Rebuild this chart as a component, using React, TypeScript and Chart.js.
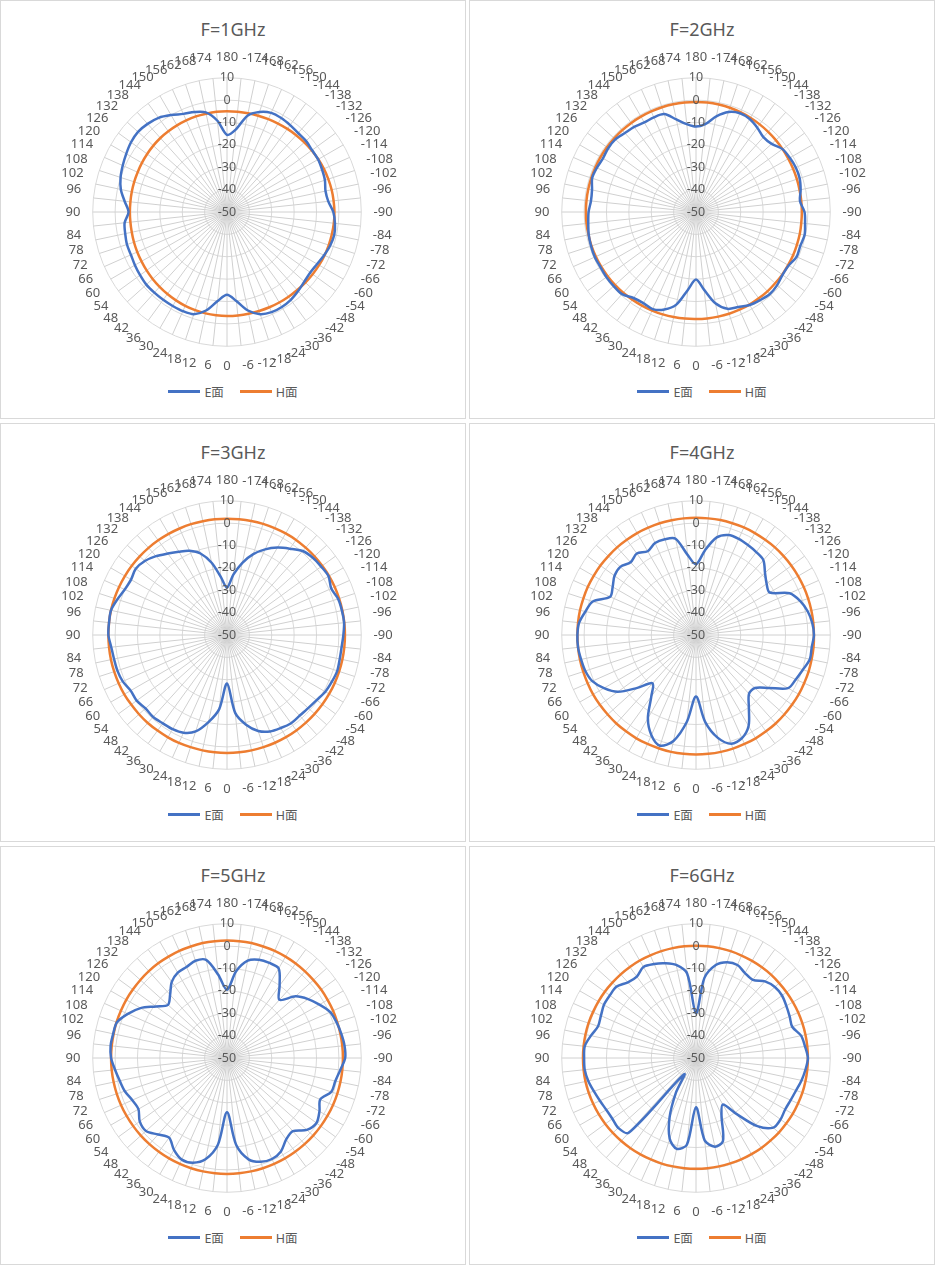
import React, { useEffect, useRef } from "react";
import { Chart, registerables } from "chart.js";
Chart.register(...registerables);

const angleLabels = ["180","-174","-168","-162","-156","-150","-144","-138","-132","-126","-120","-114","-108","-102","-96","-90","-84","-78","-72","-66","-60","-54","-48","-42","-36","-30","-24","-18","-12","-6","0","6","12","18","24","30","36","42","48","54","60","66","72","78","84","90","96","102","108","114","120","126","132","138","144","150","156","162","168","174"];

const titles = ["F=1GHz","F=2GHz","F=3GHz","F=4GHz","F=5GHz","F=6GHz"];

const e1 = [-15.5,-13,-6,-3,-1.5,-1.5,-2,-2.5,-2.5,-3,-3,-3.5,-4,-5,-4.5,-2.5,-1.5,-1,-1.5,-2.5,-3.5,-4,-3.5,-2.5,-1.5,-1,-1,-2,-5,-10,-13,-10,-5,-2,-1.5,-1.5,-1.5,-1.5,-1.5,-2,-2.5,-3,-3,-3.5,-4,-6,-4,-1.5,0,1,2,3,3.5,3,2,0,-2,-3,-4.5,-9];
const h1 = [-5,-5,-4.9,-4.8,-4.6,-4.4,-4.1,-3.8,-3.5,-3.2,-2.9,-2.6,-2.4,-2.2,-2.1,-2,-2,-2.1,-2.2,-2.3,-2.5,-2.7,-2.9,-3.1,-3.2,-3.3,-3.4,-3.5,-3.5,-3.5,-3.5,-3.6,-3.7,-3.9,-4.1,-4.4,-4.7,-5,-5.3,-5.6,-5.9,-6.1,-6.3,-6.5,-6.6,-6.6,-6.6,-6.5,-6.4,-6.3,-6.1,-5.9,-5.7,-5.5,-5.4,-5.3,-5.2,-5.1,-5.1,-5];
const e2 = [-11.8,-10.5,-6.3,-3,-1.7,-2,-3.4,-5,-4.5,-2.2,-1.6,-1.2,-1.3,-2.2,-3.3,-1.5,-1,-0.4,-1,-0.8,-2.2,-2.2,-1.2,-0.7,-1.3,-2,-3.5,-4.5,-8.3,-15,-19.8,-15,-7.7,-4.2,-2.5,-3,-2.5,-0.6,-0.5,-0.5,-0.7,-0.5,-0.7,-1,-1.6,-2,-2.8,-2.5,-1.2,-1.5,-2,-1.5,-1.5,-2.5,-3,-3.8,-3.7,-4,-7.7,-10.5];
const h2 = [-0.8,-0.8,-0.9,-1,-1.2,-1.4,-1.6,-1.8,-2,-2.2,-2.4,-2.5,-2.6,-2.7,-2.7,-2.7,-2.7,-2.6,-2.6,-2.5,-2.5,-2.4,-2.4,-2.3,-2.3,-2.2,-2.2,-2.2,-2.2,-2.2,-2.2,-2.1,-2,-1.9,-1.8,-1.7,-1.6,-1.4,-1.3,-1.2,-1.1,-1,-0.9,-0.9,-0.8,-0.8,-0.8,-0.8,-0.8,-0.8,-0.8,-0.8,-0.8,-0.8,-0.8,-0.8,-0.8,-0.8,-0.8,-0.8];
const e3 = [-28.8,-22.9,-17,-12,-8.1,-4.9,-2.3,0.5,1.6,2,2.4,1,2.2,2.5,2.6,2,1.5,1.5,1.8,1.3,0.7,-0.5,-1.2,-1.5,-1.3,-2,-2.8,-4.9,-9,-15,-28.3,-16.7,-10.2,-4.7,-2.2,-1.4,-1.2,-0.7,-1,-0.1,-0.3,1,1.5,1.6,2,3,3,3,1.5,0,-0.5,0.4,-0.6,-2.6,-5,-7,-8.8,-11.7,-17,-24];
const h3 = [2,2,2.1,2.2,2.3,2.4,2.5,2.5,2.6,2.6,2.7,2.7,2.7,2.7,2.7,2.7,2.7,2.7,2.7,2.7,2.7,2.7,2.7,2.7,2.7,2.7,2.7,2.7,2.7,2.7,2.7,2.7,2.7,2.7,2.8,2.8,2.8,2.9,2.9,2.9,3,3,3,3,3,3,3,3,2.9,2.8,2.7,2.6,2.5,2.4,2.3,2.2,2.1,2.1,2,2];
const e4 = [-18.4,-12,-5.4,-3,-3,-3.6,-4.2,-5,-8.5,-11,-12,-4.2,-1,1,2.2,2.7,2,2,0.2,-1.2,-2.5,-9.8,-14.6,-14.6,-9.8,-3,0.5,1.1,-3,-11,-22.5,-11,-1.6,2,-1,-7,-16,-21,-14.7,-6.8,-2.5,0.7,2,2.5,3,3,2.5,0.5,-1.5,-8,-7,-5,-4.5,-6.3,-5,-6.8,-5,-5,-6,-14];
const h4 = [2.4,2.4,2.5,2.5,2.6,2.6,2.6,2.7,2.7,2.7,2.7,2.7,2.7,2.7,2.7,2.7,2.8,2.8,2.9,2.9,3,3,3.1,3.2,3.2,3.3,3.3,3.4,3.4,3.4,3.4,3.4,3.4,3.3,3.3,3.3,3.2,3.2,3.1,3.1,3.1,3,3,3,3,3,3,3,2.9,2.9,2.8,2.8,2.7,2.7,2.6,2.6,2.5,2.5,2.4,2.4];
const e5 = [-19.5,-11,-5.5,-3.8,-3.5,-3.8,-10,-15,-8.8,-5.2,-2.3,0.5,1.5,2.2,2.8,2.8,0.9,-0.5,-1,-4.4,-2.3,-0.6,-2,-6,-5,-1.8,-0.6,-1.2,-3.7,-11,-25.8,-11,-3.7,-0.8,-0.3,-2.6,-6,-4,-1.3,-1.8,-4.3,-3.7,-2,-1,0.3,1.8,2.3,2,1.7,-1.5,-5.4,-10.8,-14.5,-12,-8,-6,-5.5,-4.3,-5.2,-12.6];
const h5 = [2.5,2.5,2.5,2.4,2.4,2.3,2.2,2.1,2,2,1.9,1.9,1.8,1.8,1.8,1.8,1.8,1.8,1.8,1.8,1.8,1.8,1.8,1.8,1.8,1.8,1.8,1.8,1.8,1.8,1.8,1.8,1.8,1.8,1.8,1.8,1.8,1.8,1.8,1.8,1.8,1.8,1.8,1.8,1.8,1.8,1.8,1.8,1.9,1.9,2,2,2.1,2.2,2.3,2.3,2.4,2.4,2.5,2.5];
const e6 = [-30,-14,-7.5,-5,-4.5,-6.2,-6.8,-3.9,-2.6,-2.5,-3.4,-4.2,-4.8,-2,-1,0,-0.8,-1.8,-3,-3.7,-4,-3.3,-3.5,-9,-19,-26,-22,-11,-9.5,-13,-28,-11,-8.5,-12,-21,-32,-41,-5,-3.3,-3.8,-3.7,-3,-2,-0.8,0,0,0,-2,-4,-3.5,-2.5,-2.4,-2.3,-4.5,-5,-3,-4,-5.5,-7.5,-12];
const h6 = [0.2,0.2,0.2,0.2,0.1,0.1,0.1,0.1,0,0,0,0,0,0,0,0,0,0,0,-0.1,-0.1,-0.2,-0.2,-0.3,-0.3,-0.4,-0.4,-0.5,-0.5,-0.5,-0.5,-0.5,-0.5,-0.4,-0.4,-0.3,-0.2,-0.1,0,0.1,0.2,0.3,0.4,0.5,0.5,0.5,0.5,0.5,0.5,0.4,0.4,0.4,0.3,0.3,0.3,0.3,0.2,0.2,0.2,0.2];

const eSeries = [e1, e2, e3, e4, e5, e6];
const hSeries = [h1, h2, h3, h4, h5, h6];
const tickMin = -50;
const tickMax = 10;
const tickStep = 10;

const FONT = "'Noto Sans', 'Noto Sans CJK SC', sans-serif";
const BLUE = "#4472C4";
const ORANGE = "#ED7D31";

function Panel({ idx, left, top }: { idx: number; left: number; top: number }) {
  const ref = useRef<HTMLCanvasElement>(null);
  useEffect(() => {
    const chart = new Chart(ref.current!, {
      type: "radar",
      data: {
        labels: angleLabels,
        datasets: [
          { label: "E面", data: eSeries[idx], borderColor: BLUE, backgroundColor: BLUE, borderWidth: 2.5, pointRadius: 0, fill: false, tension: 0.3 },
          { label: "H面", data: hSeries[idx], borderColor: ORANGE, backgroundColor: ORANGE, borderWidth: 2.5, pointRadius: 0, fill: false, tension: 0.3 },
        ],
      },
      options: {
        animation: false,
        responsive: false,
        maintainAspectRatio: false,
        layout: { padding: 0 },
        plugins: { legend: { display: false }, title: { display: false }, tooltip: { enabled: false } },
        scales: {
          r: {
            min: tickMin,
            max: tickMax,
            ticks: { stepSize: tickStep, color: "#595959", font: { size: 12.5, family: FONT }, showLabelBackdrop: false, z: 1 },
            grid: { circular: true, color: "#d9d9d9" },
            angleLines: { color: "#d0d0d0" },
            pointLabels: { color: "#595959", font: { size: 13, family: FONT }, padding: 4 },
          },
        },
      },
    });
    return () => chart.destroy();
  }, [idx]);
  return (
    <div style={{ position: "absolute", left, top, width: 464, height: 417, border: "1px solid #d9d9d9", background: "#fff", fontFamily: FONT }}>
      <div style={{ position: "absolute", top: 16, width: "100%", textAlign: "center", fontSize: 18, color: "#595959" }}>{titles[idx]}</div>
      <canvas ref={ref} width={340} height={330} style={{ position: "absolute", left: 59, top: 47 }} />
      <div style={{ position: "absolute", top: 381, width: "100%", display: "flex", justifyContent: "center", gap: 16, fontSize: 12.5, color: "#595959", alignItems: "center" }}>
        <span style={{ display: "flex", alignItems: "center" }}><span style={{ display: "inline-block", width: 32, height: 3, background: BLUE, marginRight: 4 }} />E面</span>
        <span style={{ display: "flex", alignItems: "center" }}><span style={{ display: "inline-block", width: 32, height: 3, background: ORANGE, marginRight: 4 }} />H面</span>
      </div>
    </div>
  );
}

export default function App() {
  const pos = [
    [0, 0], [469, 0],
    [0, 423], [469, 423],
    [0, 846], [469, 846],
  ];
  return (
    <div style={{ position: "absolute", left: 0, top: 0, width: 937, height: 1267, background: "#fff" }}>
      {pos.map((p, i) => <Panel key={i} idx={i} left={p[0]} top={p[1]} />)}
    </div>
  );
}
